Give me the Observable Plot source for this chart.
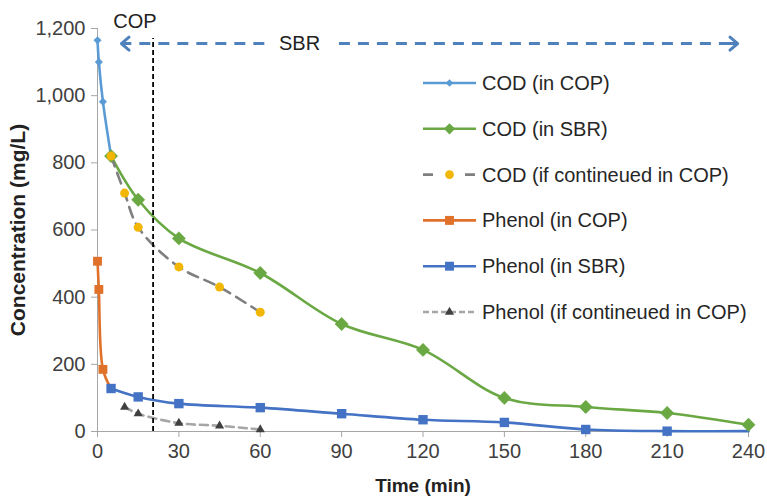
<!DOCTYPE html>
<html><head><meta charset="utf-8">
<script src="https://cdn.jsdelivr.net/npm/d3@7"></script>
<script src="https://cdn.jsdelivr.net/npm/@observablehq/plot@0.6"></script>
<style>
body{margin:0;background:#fff;font-family:"Liberation Sans",Arial,sans-serif;}
#chart{position:relative;width:767px;height:499px;}
</style>
</head><body><div id="chart"></div>
<script>
// ---- data ----
const codCopTime = [0, 0.5, 2, 5];
const codCopValue = [1165, 1100, 982, 820];
const codSbrTime = [5, 15, 30, 60, 90, 120, 150, 180, 210, 240];
const codSbrValue = [820, 690, 575, 472, 320, 243, 100, 73, 55, 20];
const codContTime = [5, 10, 15, 30, 45, 60];
const codContValue = [820, 710, 608, 490, 430, 355];
const phenolCopTime = [0, 0.5, 2, 5];
const phenolCopValue = [507, 423, 185, 128];
const phenolSbrTime = [5, 15, 30, 60, 90, 120, 150, 180, 210, 240];
const phenolSbrValue = [128, 103, 83, 71, 53, 35, 27, 6, 1, 1];
const phenolContTime = [10, 15, 30, 45, 60];
const phenolContValue = [73, 53, 25, 17, 6];

const xTicks = [0, 30, 60, 90, 120, 150, 180, 210, 240];
const yTicks = [0, 200, 400, 600, 800, 1000, 1200];

const seriesNames = ["COD (in COP)", "COD (in SBR)", "COD (if contineued in COP)",
  "Phenol (in COP)", "Phenol (in SBR)", "Phenol (if contineued in COP)"];

// phase annotation
const phaseSwitchTime = [20.5];
const phaseLineTop = 1170;
const arrowLevel = 1155;
const copArrow = {from: 61.5, to: 8.8};
const sbrArrow = {from: 89, to: 236};
const copLabel = {t: 13.8, v: 1222, text: "COP"};
const sbrLabel = {t: 74.5, v: 1155, text: "SBR"};

const zip = (t, v) => t.map((d, i) => ({t: d, v: v[i]}));
const codCop = zip(codCopTime, codCopValue);
const codSbr = zip(codSbrTime, codSbrValue);
const codCont = zip(codContTime, codContValue);
const phCop = zip(phenolCopTime, phenolCopValue);
const phSbr = zip(phenolSbrTime, phenolSbrValue);
const phCont = zip(phenolContTime, phenolContValue);

const C = {
  codCop: "#5B9BD5", codSbr: "#6AA843", codContLine: "#7F7F7F", codContDot: "#F2B705",
  phCop: "#E0712B", phSbr: "#4472C4", phContLine: "#A6A6A6", phContDot: "#404040",
  arrow: "#4F81BD"
};
const curve = "catmull-rom";
const LW = 2.6;

const plot = Plot.plot({
  width: 767, height: 499,
  marginLeft: 97, marginRight: 19, marginTop: 28, marginBottom: 68,
  style: {fontFamily: '"Liberation Sans", Arial, sans-serif', background: "#fff", overflow: "visible"},
  x: {domain: [0, 240], label: null},
  y: {domain: [0, 1200], label: null},
  marks: [
    Plot.ruleX([0], {stroke: "#a6a6a6", strokeWidth: 1}),
    Plot.ruleY([0], {stroke: "#a6a6a6", strokeWidth: 1}),
    Plot.axisY(yTicks, {tickSize: 6, tickPadding: 6, stroke: "#a6a6a6", fill: "#404040",
      fontSize: 20, tickFormat: d3.format(","), label: null}),
    Plot.axisX(xTicks, {tickSize: 6, tickPadding: 6, stroke: "#a6a6a6", fill: "#404040",
      fontSize: 20, label: null}),
    // lines
    Plot.line(codCop, {x: "t", y: "v", stroke: C.codCop, strokeWidth: LW, curve}),
    Plot.line(codSbr, {x: "t", y: "v", stroke: C.codSbr, strokeWidth: LW, curve}),
    Plot.line(codCont, {x: "t", y: "v", stroke: C.codContLine, strokeWidth: LW, strokeDasharray: "11,7", curve}),
    Plot.line(phCop, {x: "t", y: "v", stroke: C.phCop, strokeWidth: LW, curve}),
    Plot.line(phSbr, {x: "t", y: "v", stroke: C.phSbr, strokeWidth: LW, curve}),
    Plot.line(phCont, {x: "t", y: "v", stroke: C.phContLine, strokeWidth: LW, strokeDasharray: "8,5", curve}),
    // markers
    Plot.dot(codCop, {x: "t", y: "v", symbol: "diamond2", r: 3.4, fill: C.codCop, stroke: C.codCop, strokeWidth: 0.5}),
    Plot.dot(codSbr, {x: "t", y: "v", symbol: "diamond2", r: 6, fill: C.codSbr, stroke: C.codSbr, strokeWidth: 0.5}),
    Plot.dot(codCont, {x: "t", y: "v", symbol: "circle", r: 4.5, fill: C.codContDot, stroke: "none"}),
    Plot.dot(phCop, {x: "t", y: "v", symbol: "square", r: 5, fill: C.phCop, stroke: "none", filter: (d, i) => i < phCop.length - 1}),
    Plot.dot(phSbr, {x: "t", y: "v", symbol: "square", r: 5.3, fill: C.phSbr, stroke: "none", filter: (d, i) => i < phSbr.length - 1}),
    Plot.dot(phCont, {x: "t", y: "v", symbol: "triangle", r: 3.4, fill: C.phContDot, stroke: "none"}),
    // phase annotation
    Plot.ruleX(phaseSwitchTime, {y1: 0, y2: phaseLineTop, stroke: "#000", strokeWidth: 1.8, strokeDasharray: "5,3"}),
    Plot.link([copArrow, sbrArrow], {x1: "from", x2: "to", y1: arrowLevel, y2: arrowLevel,
      stroke: C.arrow, strokeWidth: 3, strokeDasharray: "11,8"}),
    Plot.arrow([copArrow], {x1: "from", x2: "to", y1: arrowLevel, y2: arrowLevel,
      stroke: C.arrow, strokeWidth: 3, headLength: 5, headAngle: 80, insetStart: 135}),
    Plot.arrow([sbrArrow], {x1: "from", x2: "to", y1: arrowLevel, y2: arrowLevel,
      stroke: C.arrow, strokeWidth: 3, headLength: 5, headAngle: 80, insetStart: 390}),
    Plot.text([copLabel, sbrLabel], {x: "t", y: "v", text: "text", fontSize: 20, fill: "#222"}),
    // axis titles
    Plot.text(["Time (min)"], {frameAnchor: "bottom", textAnchor: "middle", dy: 60, fontSize: 19, fontWeight: "bold", fill: "#222"}),
    Plot.text(["Concentration (mg/L)"], {frameAnchor: "left", textAnchor: "middle", dx: -79, rotate: -90, fontSize: 21, fontWeight: "bold", fill: "#222"})
  ]
});
document.getElementById("chart").appendChild(plot);

// ---- legend (inside plot area, drawn with d3) ----
const svg = d3.select(plot);
const legendStyles = [
  {line: C.codCop, dash: null, sym: d3.symbolDiamond2, size: 36, fill: C.codCop},
  {line: C.codSbr, dash: null, sym: d3.symbolDiamond2, size: 80, fill: C.codSbr},
  {line: C.codContLine, dash: "10,32", sym: d3.symbolCircle, size: 60, fill: C.codContDot},
  {line: C.phCop, dash: null, sym: d3.symbolSquare, size: 80, fill: C.phCop},
  {line: C.phSbr, dash: null, sym: d3.symbolSquare, size: 80, fill: C.phSbr},
  {line: C.phContLine, dash: "6,3", sym: d3.symbolTriangle, size: 36, fill: C.phContDot}
];
const lg = svg.append("g").attr("font-family", '"Liberation Sans", Arial, sans-serif').attr("text-anchor", "start");
seriesNames.forEach((name, i) => {
  const y = 83 + i * 45.8;
  const s = legendStyles[i];
  const g = lg.append("g").attr("transform", `translate(423,${y})`);
  g.append("line").attr("x1", 0).attr("x2", 53).attr("stroke", s.line).attr("stroke-width", 2.6)
    .attr("stroke-dasharray", s.dash);
  g.append("path").attr("transform", "translate(26.5,0)").attr("d", d3.symbol(s.sym, s.size)()).attr("fill", s.fill);
  g.append("text").attr("x", 59).attr("dy", "0.35em").attr("font-size", 20).attr("fill", "#262626").text(name);
});
</script>
</body></html>
